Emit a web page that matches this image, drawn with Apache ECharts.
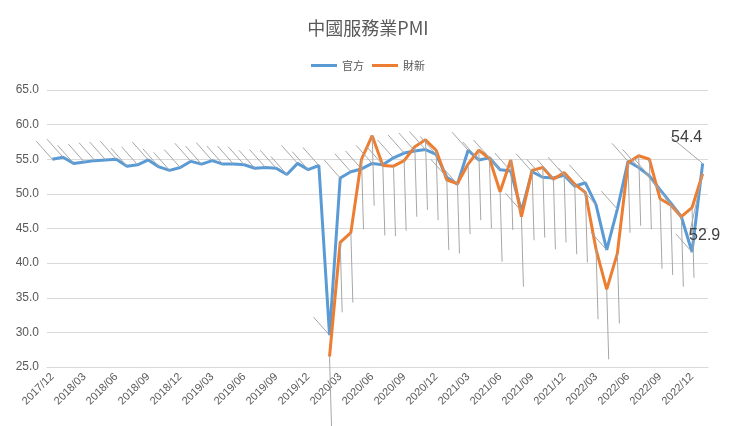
<!DOCTYPE html><html><head><meta charset="utf-8"><script src="https://cdn.jsdelivr.net/npm/echarts@6/dist/echarts.min.js"></script></head><body style="margin:0"><div id="c" style="width:736px;height:426px"></div><script>
const months=[];for(let y=2017,m=12;!(y===2023&&m===2);){months.push(y+'/'+String(m).padStart(2,'0'));m++;if(m>12){m=1;y++;}}
const official=[55.0,55.3,54.4,54.6,54.8,54.9,55.0,54.0,54.2,54.9,53.9,53.4,53.8,54.7,54.3,54.8,54.3,54.3,54.2,53.7,53.8,53.7,52.8,54.4,53.5,54.1,29.6,52.3,53.2,53.6,54.4,54.2,55.2,55.9,56.2,56.4,55.7,52.4,51.4,56.3,54.9,55.2,53.5,53.3,47.5,53.2,52.4,52.3,52.7,51.1,51.6,48.4,41.9,47.8,54.7,53.8,52.6,50.6,48.7,46.7,41.6,54.4];
const caixin=[null,null,null,null,null,null,null,null,null,null,null,null,null,null,null,null,null,null,null,null,null,null,null,null,null,null,26.5,43.0,44.4,55.0,58.4,54.1,54.0,54.8,56.8,57.8,56.3,52.0,51.5,54.3,56.3,55.1,50.3,54.9,46.7,53.4,53.8,52.1,53.1,51.4,50.2,42.0,36.2,41.4,54.5,55.5,55.0,49.3,48.4,46.7,48.0,52.9];
const yTicks=[25,65,5];
const n=months.length;
function lastLabel(){return {show:true,position:'top',distance:0,fontSize:16,color:'#404040',formatter:p=>p.dataIndex===n-1?p.value.toFixed(1):''};}
const ch=echarts.init(document.getElementById('c'));
ch.setOption({
title:{text:'中國服務業PMI',left:'center',top:14,textStyle:{fontSize:18,fontWeight:'normal',color:'#595959',fontFamily:'Noto Sans CJK TC'}},
legend:{top:55,left:'center',itemWidth:26,itemHeight:3,icon:'rect',textStyle:{fontSize:11,color:'#595959',fontFamily:'Noto Sans CJK TC'},data:['官方','財新']},
grid:{left:47,right:28,top:90,bottom:59,containLabel:false},
xAxis:{type:'category',data:months,boundaryGap:true,axisTick:{show:false},axisLine:{lineStyle:{color:'#d9d9d9'}},axisLabel:{interval:2,rotate:45,color:'#595959',fontSize:11}},
yAxis:{type:'value',min:yTicks[0],max:yTicks[1],interval:yTicks[2],axisLabel:{formatter:v=>v.toFixed(1),color:'#595959',fontSize:12},splitLine:{lineStyle:{color:'#d9d9d9'}}},
series:[
{name:'官方',type:'line',data:official,symbol:'circle',symbolSize:0,showSymbol:true,label:lastLabel(),labelLayout:{dx:-16,dy:-18,hideOverlap:false},labelLine:{show:true,lineStyle:{color:'#a6a6a6',width:1}},lineStyle:{width:3,color:'#5B9BD5'},itemStyle:{color:'#5B9BD5'}},
{name:'財新',type:'line',data:caixin,symbol:'circle',symbolSize:0,showSymbol:true,label:lastLabel(),labelLayout:{dx:2,dy:70,hideOverlap:false},labelLine:{show:true,lineStyle:{color:'#a6a6a6',width:1}},lineStyle:{width:3,color:'#ED7D31'},itemStyle:{color:'#ED7D31'}}
]});
</script></body></html>
